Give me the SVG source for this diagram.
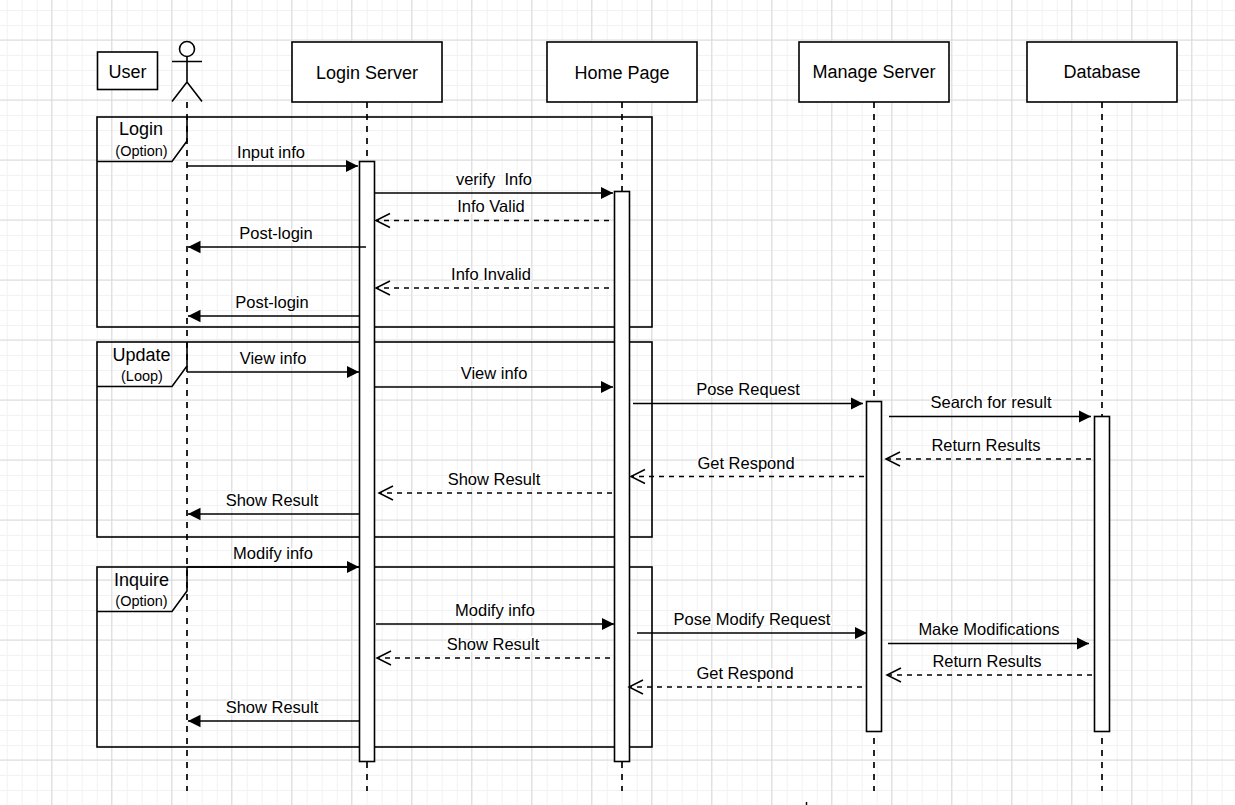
<svg xmlns="http://www.w3.org/2000/svg" width="1235" height="805" viewBox="0 0 1235 805">
<style>
text{font-family:"Liberation Sans",Arial,sans-serif;font-size:16.5px;fill:#000;text-anchor:middle;white-space:pre}
.sm{font-size:14.5px}
.hd{font-size:18px}
.bx{fill:#fff;stroke:#000;stroke-width:1.6}
.fr{fill:none;stroke:#000;stroke-width:1.6}
.ll{fill:none;stroke:#000;stroke-width:1.7;stroke-dasharray:6 6}
.m{fill:none;stroke:#000;stroke-width:1.6;marker-end:url(#solid)}
.r{fill:none;stroke:#000;stroke-width:1.5;stroke-dasharray:5 5;marker-end:url(#open)}
.lb{paint-order:stroke;stroke:#fff;stroke-width:3px}
</style>
<defs>
<marker id="solid" markerUnits="userSpaceOnUse" markerWidth="14" markerHeight="14" refX="12.500" refY="7" orient="auto"><path d="M0 0.700 L12.500 7 L0 13.300 Z" fill="#000"/></marker>
<marker id="open" markerUnits="userSpaceOnUse" markerWidth="18" markerHeight="18" refX="15" refY="8" orient="auto"><path d="M1 1 L15 8 L1 15" fill="none" stroke="#000" stroke-width="1.500"/></marker>
<pattern id="gridMinor" width="15" height="15" patternUnits="userSpaceOnUse" x="6.700" y="10"><path d="M0.500 0V15M0 0.500H15" fill="none" stroke="#f2f2f2" stroke-width="1"/></pattern>
<pattern id="gridMajor" width="60" height="60" patternUnits="userSpaceOnUse" x="51.200" y="39.500"><path d="M0.500 0V60M0 0.500H60" fill="none" stroke="#dadada" stroke-width="1"/></pattern>
</defs>
<rect width="1235" height="805" fill="#fff"/>
<rect width="1235" height="805" fill="url(#gridMinor)"/>
<rect width="1235" height="805" fill="url(#gridMajor)"/>

<g id="frames">
<g id="frame-login"><rect class="fr" x="97" y="117" width="555" height="210"/><path class="fr" d="M97 161.500H172L187 141V117"/><text class="hd" x="141" y="135">Login</text><text class="sm" x="141.500" y="156">(Option)</text></g>
<g id="frame-update"><rect class="fr" x="97" y="342" width="555" height="195"/><path class="fr" d="M97 386.500H172L187 366V342"/><text class="hd" x="141.500" y="361">Update</text><text class="sm" x="142" y="381">(Loop)</text></g>
<g id="frame-inquire"><rect class="fr" x="97" y="567" width="555" height="180"/><path class="fr" d="M97 611.500H172L187 591V567"/><text class="hd" x="141.500" y="586">Inquire</text><text class="sm" x="141.500" y="606">(Option)</text></g>
</g>

<g id="lifelines">
<path class="ll" d="M187 102V791"/>
<path class="ll" d="M367 102V791"/>
<path class="ll" d="M622 102V791"/>
<path class="ll" d="M874 102V791"/>
<path class="ll" d="M1102 102V791"/>
</g>

<g id="user-label"><rect class="bx" x="97.500" y="52" width="60" height="37.500"/><text class="hd" x="127.500" y="77.500">User</text></g>
<g id="user-actor" fill="none" stroke="#000" stroke-width="1.600"><circle cx="187" cy="49" r="7.500" fill="#fff"/><path d="M187 56.500V82M172 61.500H202M172 101.500L187 82L202 101.500"/></g>
<g id="login-server"><rect class="bx" x="292" y="42" width="150" height="60"/><text class="hd" x="367" y="78.500">Login Server</text><rect class="bx" x="359.500" y="161.500" width="15" height="600"/></g>
<g id="home-page"><rect class="bx" x="547" y="42" width="150" height="60"/><text class="hd" x="622" y="78.500">Home Page</text><rect class="bx" x="614.500" y="191.500" width="15" height="570"/></g>
<g id="manage-server"><rect class="bx" x="799" y="42" width="150" height="60"/><text class="hd" x="874" y="77.500">Manage Server</text><rect class="bx" x="866.500" y="401.500" width="15" height="330"/></g>
<g id="database"><rect class="bx" x="1027" y="42" width="150" height="60"/><text class="hd" x="1102" y="77.500">Database</text><rect class="bx" x="1094.500" y="416.500" width="15" height="315"/></g>

<g id="connectors">
<path class="m" d="M187 166H358"/>
<path class="m" d="M375 193H613"/>
<path class="r" d="M609 220.500H376"/>
<path class="m" d="M366 247H188"/>
<path class="r" d="M609 288H376"/>
<path class="m" d="M359 316H188"/>
<path class="m" d="M187 372H359"/>
<path class="m" d="M375 387H613"/>
<path class="m" d="M633 403.500H863"/>
<path class="m" d="M889 416.500H1091"/>
<path class="r" d="M1091 459H886"/>
<path class="r" d="M864 476.500H631"/>
<path class="r" d="M612 493H379"/>
<path class="m" d="M359 514H188"/>
<path class="m" d="M187 567H359"/>
<path class="m" d="M376 624H614"/>
<path class="m" d="M637 633H867"/>
<path class="m" d="M888 643.500H1089"/>
<path class="r" d="M610 658H377"/>
<path class="r" d="M1092 675H887"/>
<path class="r" d="M862 687H629"/>
<path class="m" d="M359 721H188"/>
</g>

<g id="labels">
<text class="lb" x="271" y="158">Input info</text>
<text class="lb" x="494" y="185">verify  Info</text>
<text class="lb" x="491" y="212">Info Valid</text>
<text class="lb" x="276" y="239">Post-login</text>
<text class="lb" x="491" y="280">Info Invalid</text>
<text class="lb" x="272" y="308">Post-login</text>
<text class="lb" x="273" y="364">View info</text>
<text class="lb" x="494" y="379">View info</text>
<text class="lb" x="748" y="395">Pose Request</text>
<text class="lb" x="991" y="408">Search for result</text>
<text class="lb" x="986" y="451">Return Results</text>
<text class="lb" x="746" y="469">Get Respond</text>
<text class="lb" x="494" y="485">Show Result</text>
<text class="lb" x="272" y="506">Show Result</text>
<text class="lb" x="273" y="559">Modify info</text>
<text class="lb" x="495" y="616">Modify info</text>
<text class="lb" x="752" y="625">Pose Modify Request</text>
<text class="lb" x="989" y="635">Make Modifications</text>
<text class="lb" x="493" y="650">Show Result</text>
<text class="lb" x="987" y="667">Return Results</text>
<text class="lb" x="745" y="679">Get Respond</text>
<text class="lb" x="272" y="713">Show Result</text>
</g>
<path id="stray-mark" d="M806.500 802V805" stroke="#000" stroke-width="1.500" fill="none"/>
</svg>
